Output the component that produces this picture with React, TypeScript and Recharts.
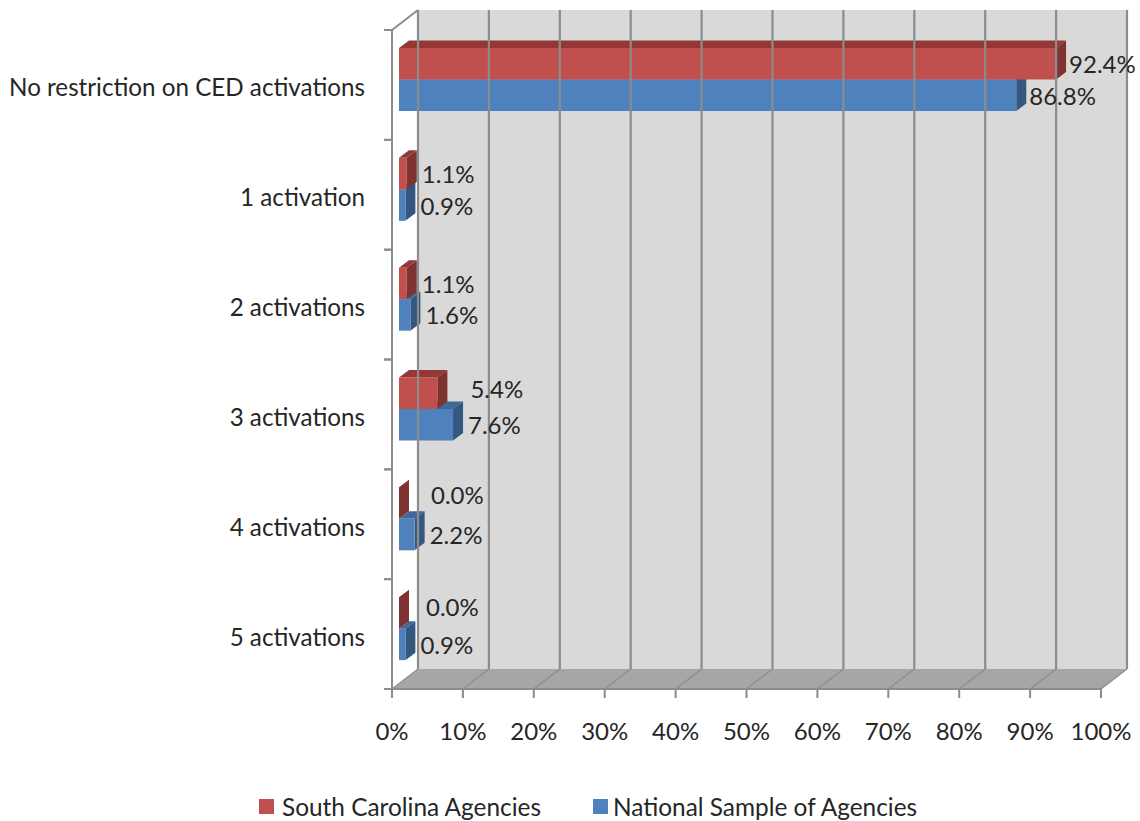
import React from "react";
import {
  BarChart,
  Bar,
  XAxis,
  YAxis,
  Legend,
  LabelList,
  ReferenceArea,
  ReferenceLine,
} from "recharts";

const categories = [
  "No restriction on CED activations",
  "1 activation",
  "2 activations",
  "3 activations",
  "4 activations",
  "5 activations",
];
const southCarolina = [92.4, 1.1, 1.1, 5.4, 0.0, 0.0];
const nationalSample = [86.8, 0.9, 1.6, 7.6, 2.2, 0.9];
const xTicks = [0, 10, 20, 30, 40, 50, 60, 70, 80, 90, 100];

const data = categories.map((name, i) => ({
  name,
  sc: southCarolina[i],
  national: nationalSample[i],
}));

// hand placed labels in the original chart: [dx, dy] from the default spot
const redNudge = [[-2, 0], [0, 0], [0, 0], [18, -5], [17, -9], [12, -6]];
const blueNudge = [[-2, 0], [0, 0], [0, 0], [0, 0], [0, 0], [0, 0]];

const FONT = "Lato, 'Open Sans', sans-serif";
const TEXT = "#262626";
const GRID = "#8c8c8c";
const DEPTH_X = 26;
const DEPTH_Y = 20;
const BAR_DX = 10;
const BAR_DY = 7.5;
const BAND = 109.8;
const BAR_SIZE = 31.5;

// blue is declared first so red paints over it, so the two swap rows here
const makeBar = (front: string, top: string, side: string, swap: number) => (props: any) => {
  const x = props.x + 7;
  const y = props.y - 5 + swap;
  const w = props.width * 1.003;
  const h = props.height;
  return (
    <g>
      <polygon
        points={`${x},${y} ${x + BAR_DX},${y - BAR_DY} ${x + w + BAR_DX},${y - BAR_DY} ${x + w},${y}`}
        fill={top}
      />
      <polygon
        points={`${x + w},${y} ${x + w + BAR_DX},${y - BAR_DY} ${x + w + BAR_DX},${y + h - BAR_DY} ${x + w},${y + h}`}
        fill={side}
      />
      <rect x={x} y={y} width={w} height={h} fill={front} />
    </g>
  );
};

const makeLabel = (nudge: number[][], swap: number) => (props: any) => {
  const [dx, dy] = nudge[props.index];
  return (
    <text
      x={props.x + 7 + props.width * 1.003 + BAR_DX + 5 + dx}
      y={props.y - 5 + swap + props.height / 2 + dy}
      dominantBaseline="central"
      fontFamily={FONT}
      fontSize={24}
      fill={TEXT}
    >
      {props.value.toFixed(1)}%
    </text>
  );
};

const Wall = (props: any) => {
  const { x, y, width, height } = props;
  return (
    <g>
      <rect x={x + DEPTH_X} y={y - DEPTH_Y} width={width} height={height} fill="#d9d9d9" />
      <polygon
        points={`${x},${y + height} ${x + DEPTH_X},${y + height - DEPTH_Y} ${x + width + DEPTH_X},${y + height - DEPTH_Y} ${x + width},${y + height}`}
        fill="#a6a6a6"
      />
      <line x1={x} y1={y} x2={x + DEPTH_X} y2={y - DEPTH_Y} stroke={GRID} strokeWidth={2} />
    </g>
  );
};

const GridLine = (props: any) => {
  const { x1, y1, y2 } = props;
  const top = Math.min(y1, y2);
  const bottom = Math.max(y1, y2);
  return (
    <g>
      <line x1={x1 + DEPTH_X} y1={top - DEPTH_Y} x2={x1 + DEPTH_X} y2={bottom - DEPTH_Y} stroke={GRID} strokeWidth={2.2} />
      <line x1={x1} y1={bottom} x2={x1 + DEPTH_X} y2={bottom - DEPTH_Y} stroke={GRID} strokeWidth={1.2} />
    </g>
  );
};

const CategoryTick = (props: any) => {
  const { x, y, payload } = props;
  const right = x + 27;
  return (
    <g>
      <line x1={right - 8} y1={y - BAND / 2} x2={right} y2={y - BAND / 2} stroke={GRID} strokeWidth={2} />
      <line x1={right - 8} y1={y + BAND / 2} x2={right} y2={y + BAND / 2} stroke={GRID} strokeWidth={2} />
      <text x={x} y={y + 2} textAnchor="end" dominantBaseline="central" fontFamily={FONT} fontSize={24.2} fill={TEXT}>
        {payload.value}
      </text>
    </g>
  );
};

const legendItems = [
  { name: "South Carolina Agencies", color: "#c0504d", gap: 8, width: 334 },
  { name: "National Sample of Agencies", color: "#4f81bd", gap: 5, width: 340 },
];

const ChartLegend = () => (
  <div style={{ display: "flex", fontFamily: FONT, fontSize: 24.4, color: TEXT, paddingLeft: 259 }}>
    {legendItems.map((item) => (
      <div key={item.name} style={{ display: "flex", alignItems: "center", width: item.width }}>
        <span style={{ width: 15, height: 15, background: item.color, marginRight: item.gap }} />
        {item.name}
      </div>
    ))}
  </div>
);

const blueBar = makeBar("#4f81bd", "#3f6797", "#34577f", BAR_SIZE);
const redBar = makeBar("#c0504d", "#953735", "#7f3330", -BAR_SIZE);

export default function App() {
  return (
    <div style={{ position: "absolute", left: 0, top: 0, width: 1140, height: 821, background: "#fff" }}>
      <BarChart
        width={1140}
        height={821}
        data={data}
        layout="vertical"
        margin={{ top: 30, right: 39, bottom: 0, left: 0 }}
        barSize={BAR_SIZE}
        barGap={0}
      >
        <ReferenceArea x1={0} x2={100} shape={Wall} ifOverflow="visible" />
        {xTicks.map((t) => (
          <ReferenceLine key={t} x={t} shape={GridLine} ifOverflow="visible" />
        ))}
        <XAxis
          type="number"
          domain={[0, 100]}
          ticks={xTicks}
          interval={0}
          height={132}
          tickFormatter={(v: number) => `${v}%`}
          tick={{ fontFamily: FONT, fontSize: 24, fill: TEXT }}
          tickSize={9}
          tickMargin={25}
          axisLine={{ stroke: GRID, strokeWidth: 2 }}
          tickLine={{ stroke: GRID, strokeWidth: 2 }}
        />
        <YAxis
          type="category"
          dataKey="name"
          width={392}
          interval={0}
          tick={CategoryTick}
          tickSize={8}
          tickMargin={19}
          tickLine={false}
          axisLine={{ stroke: GRID, strokeWidth: 2 }}
        />
        <Legend
          verticalAlign="middle"
          layout="horizontal"
          content={ChartLegend}
          wrapperStyle={{ top: 792, left: 0, width: 1140 }}
        />
        <Bar dataKey="national" name="National Sample of Agencies" shape={blueBar} isAnimationActive={false}>
          <LabelList dataKey="national" content={makeLabel(blueNudge, BAR_SIZE)} />
        </Bar>
        <Bar dataKey="sc" name="South Carolina Agencies" shape={redBar} isAnimationActive={false}>
          <LabelList dataKey="sc" content={makeLabel(redNudge, -BAR_SIZE)} />
        </Bar>
      </BarChart>
    </div>
  );
}
